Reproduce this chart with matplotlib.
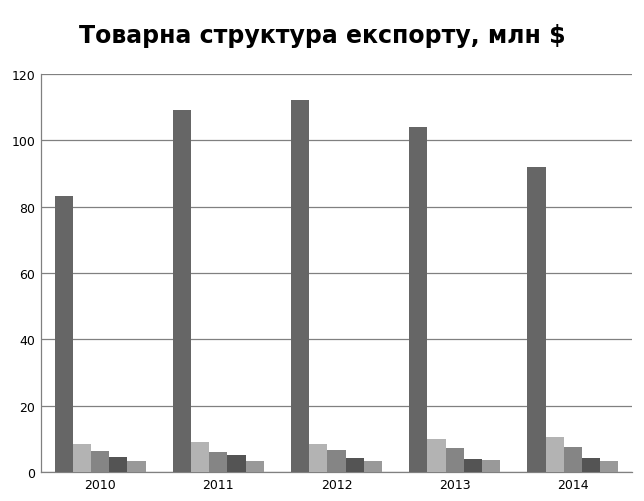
import numpy as np
import matplotlib
matplotlib.use("Agg")
import matplotlib.pyplot as plt

# --- data ---
years = ["2010", "2011", "2012", "2013", "2014"]
series_1 = [83.2, 109.1, 112.2, 104.0, 92.0]
series_2 = [8.4, 9.0, 8.4, 9.9, 10.5]
series_3 = [6.3, 6.0, 6.6, 7.2, 7.5]
series_4 = [4.5, 5.1, 4.2, 3.9, 4.2]
series_5 = [3.3, 3.3, 3.3, 3.6, 3.3]

series = [series_1, series_2, series_3, series_4, series_5]
colors = ["#666666", "#b3b3b3", "#858585", "#545454", "#999999"]

fig = plt.figure(figsize=(6.44, 5.02), dpi=100)
ax = fig.add_axes([0.0637, 0.0578, 0.9177, 0.7928])

x = np.arange(len(years))
bar_w = 0.154
n = len(series)
for i, (vals, c) in enumerate(zip(series, colors)):
    offs = (i - (n - 1) / 2) * bar_w
    ax.bar(x + offs, vals, width=bar_w, color=c, zorder=3)

ax.set_xlim(-0.5, len(years) - 0.5)
ax.set_ylim(0, 120)
ax.set_yticks(range(0, 121, 20))
ax.set_xticks(x)
ax.set_xticklabels(years)
ax.tick_params(axis="both", length=0, labelsize=9, colors="black", pad=4)
ax.grid(axis="y", color="#808080", linewidth=0.9, zorder=0)
for s in ["top", "right"]:
    ax.spines[s].set_visible(False)
for s in ["left", "bottom"]:
    ax.spines[s].set_color("#808080")
    ax.spines[s].set_linewidth(0.9)

fig.text(0.5, 0.928, "Товарна структура експорту, млн $", ha="center", va="center",
         fontsize=17, fontweight="bold")

fig.savefig("out.png", dpi=100)
